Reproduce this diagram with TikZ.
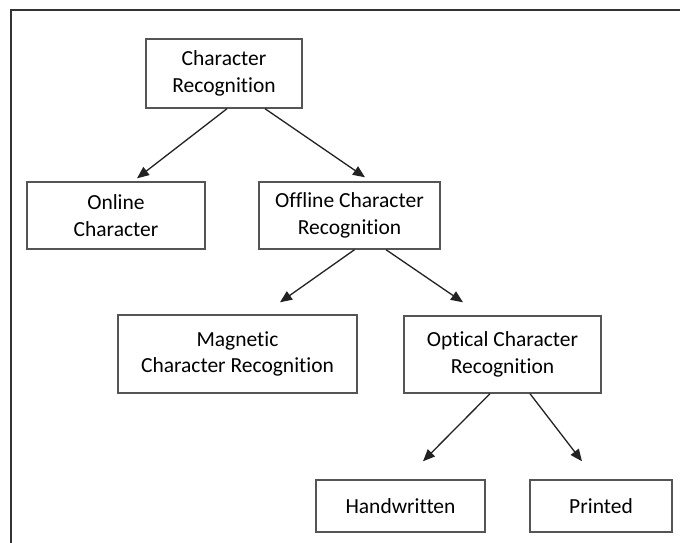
\documentclass[tikz,border=0pt]{standalone}
\usepackage{fontspec}
\setmainfont[Ligatures=NoCommon]{Carlito}
\usetikzlibrary{arrows.meta}
\definecolor{framec}{HTML}{333333}
\definecolor{boxc}{HTML}{555555}
\definecolor{arrc}{HTML}{222222}
\begin{document}
\begin{tikzpicture}[x=1pt,y=-1pt,
  box/.style={draw=boxc, line width=1.4pt, inner sep=0pt, align=center,
    font=\fontsize{21.5pt}{26.5pt}\selectfont},
  arr/.style={draw=arrc, line width=1.3pt, -{Triangle[length=12pt,width=10pt]}}]
\useasboundingbox (0,0) rectangle (680,543);
\fill[white] (0,0) rectangle (680,543);
\draw[framec, line width=2.5pt] (11,545) -- (11,10) -- (682,10);

\node[box, minimum width=156pt, minimum height=69pt] (cr) at (224,73.5) {Character\\Recognition};
\node[box, minimum width=178pt, minimum height=67pt] (on) at (116,215.5) {Online\\Character};
\node[box, minimum width=181pt, minimum height=67pt] (off) at (349.5,215.5) {Offline Character\\Recognition};
\node[box, minimum width=239pt, minimum height=78pt] (mag) at (237.5,354) {Magnetic\\Character Recognition};
\node[box, minimum width=197pt, minimum height=77pt] (opt) at (502.5,354.5) {Optical Character\\Recognition};
\node[box, minimum width=169pt, minimum height=52pt] (hw) at (400.5,506) {Handwritten};
\node[box, minimum width=142pt, minimum height=52pt] (pr) at (601,506) {Printed};

\draw[arr] ([xshift=3pt]cr.south) -- ([xshift=21pt,yshift=3pt]on.north);
\draw[arr] ([xshift=41pt]cr.south) -- ([xshift=15.5pt,yshift=4pt]off.north);
\draw[arr] ([xshift=5pt]off.south) -- ([xshift=42.5pt,yshift=12pt]mag.north);
\draw[arr] ([xshift=36.5pt]off.south) -- ([xshift=-39.5pt,yshift=13pt]opt.north);
\draw[arr] ([xshift=-12.5pt]opt.south) -- ([xshift=22.5pt,yshift=18pt]hw.north);
\draw[arr] ([xshift=27.5pt]opt.south) -- ([xshift=-19pt,yshift=18pt]pr.north);
\end{tikzpicture}
\end{document}
